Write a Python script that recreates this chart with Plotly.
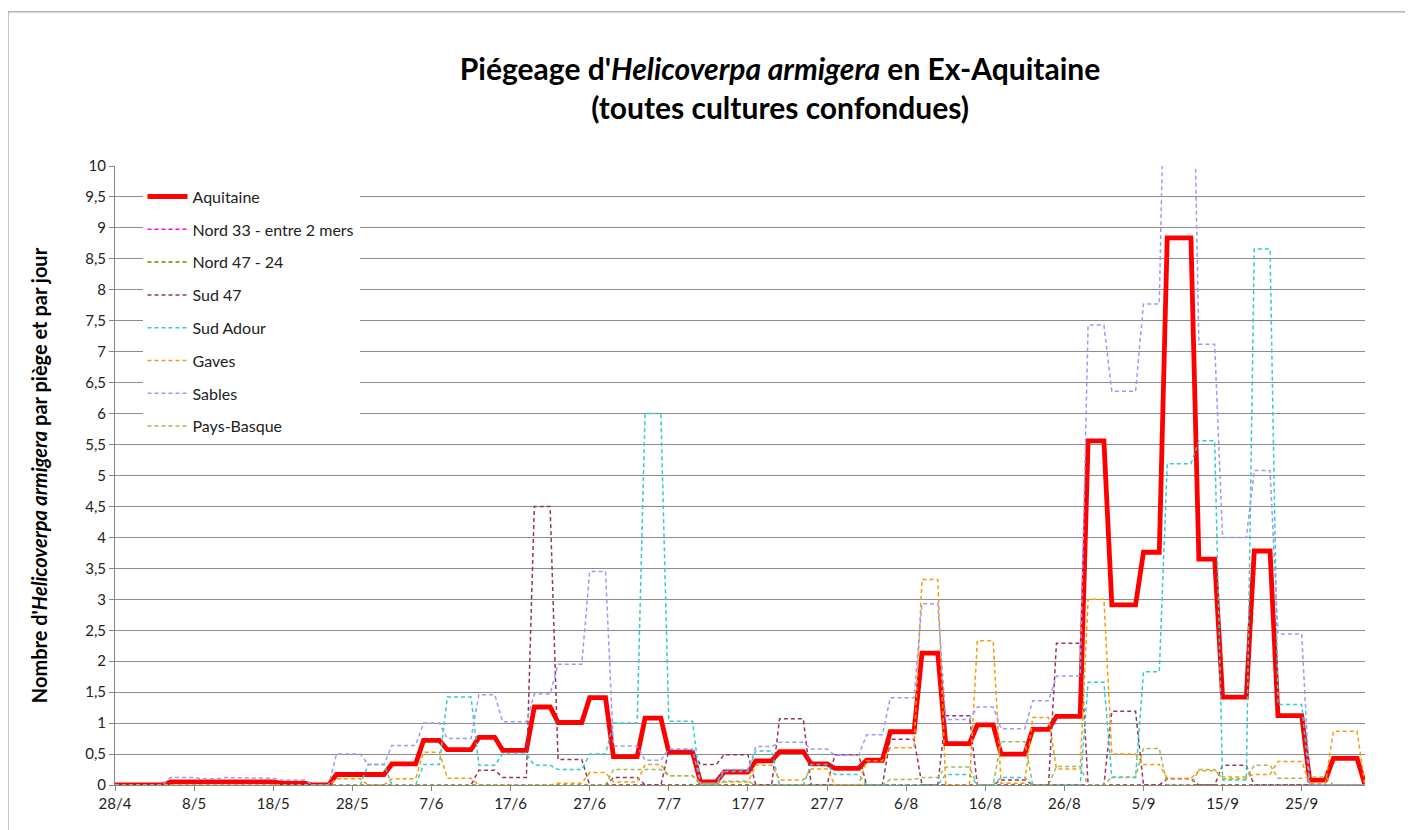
import pandas as pd
import plotly.graph_objects as go

# Trap reading periods (start dates); each value is held until the next start
period_starts = [
    "2016-04-28", "2016-05-05", "2016-05-09", "2016-05-12", "2016-05-16", "2016-05-19",
    "2016-05-23", "2016-05-26", "2016-05-30", "2016-06-02", "2016-06-06", "2016-06-09",
    "2016-06-13", "2016-06-16", "2016-06-20", "2016-06-23", "2016-06-27", "2016-06-30",
    "2016-07-04", "2016-07-07", "2016-07-11", "2016-07-14", "2016-07-18", "2016-07-21",
    "2016-07-25", "2016-07-28", "2016-08-01", "2016-08-04", "2016-08-08", "2016-08-11",
    "2016-08-15", "2016-08-18", "2016-08-22", "2016-08-25", "2016-08-29", "2016-09-01",
    "2016-09-05", "2016-09-08", "2016-09-12", "2016-09-15", "2016-09-19", "2016-09-22",
    "2016-09-26", "2016-09-29", "2016-10-03",
]

aquitaine = [0, 0.05, 0.05, 0.05, 0.05, 0.03, 0, 0.17, 0.17, 0.34, 0.72, 0.57, 0.77, 0.56,
             1.26, 1.01, 1.41, 0.46, 1.08, 0.53, 0.05, 0.21, 0.39, 0.54, 0.34, 0.27, 0.40,
             0.86, 2.13, 0.67, 0.97, 0.50, 0.90, 1.11, 5.56, 2.91, 3.76, 8.84, 3.65, 1.42,
             3.78, 1.12, 0.08, 0.43, 0]
nord33 = [0] * 45
nord47_24 = [0] * 45
sud47 = [0, 0, 0, 0, 0, 0, 0, 0, 0, 0, 0, 0, 0.24, 0.12, 4.5, 0.41, 0, 0.12, 0, 0.56,
         0.33, 0.49, 0, 1.07, 0, 0.49, 0, 0.74, 0, 1.12, 0, 0.08, 0, 2.29, 0, 1.19, 0,
         0.1, 0, 0.32, 0, 0, 0, 0, 0]
sud_adour = [0, 0, 0, 0, 0, 0, 0, 0, 0.33, 0, 0.33, 1.42, 0.32, 0.5, 0.32, 0.25, 0.5, 1.0,
             6.0, 1.03, 0, 0.22, 0.55, 0, 0.33, 0.17, 0, 0, 0, 0.17, 0, 0.12, 0, 0, 1.66,
             0.12, 1.83, 5.19, 5.56, 0.08, 8.66, 1.3, 0, 0, 0]
gaves = [0, 0, 0, 0, 0, 0, 0, 0.1, 0, 0.1, 0.53, 0.11, 0, 0, 0, 0.03, 0.2, 0.05, 0.33,
         0.15, 0.03, 0.05, 0.32, 0.08, 0.26, 0, 0.39, 0.6, 3.32, 0, 2.33, 0.03, 1.09, 0.26,
         3.0, 0.5, 0.33, 0.11, 0.23, 0.13, 0.17, 0.38, 0.03, 0.87, 0]
sables = [0, 0.12, 0.1, 0.12, 0.11, 0.08, 0, 0.5, 0.33, 0.64, 1.0, 0.75, 1.46, 1.02, 1.47,
          1.95, 3.45, 0.63, 0.4, 0.58, 0.03, 0.25, 0.62, 0.69, 0.58, 0.48, 0.81, 1.41, 2.93,
          1.06, 1.26, 0.91, 1.36, 1.76, 7.43, 6.36, 7.77, 14.0, 7.12, 4.0, 5.08, 2.44, 0, 0, 0]
pays_basque = [0, 0, 0, 0, 0, 0, 0, 0, 0, 0, 0, 0, 0, 0, 0, 0, 0, 0.25, 0.25, 0.15, 0, 0.06,
               0, 0, 0, 0, 0, 0.09, 0.12, 0.29, 0, 0.7, 0, 0.3, 0, 0.13, 0.59, 0, 0.25, 0.1,
               0.32, 0.11, 0.13, 0, 0]

tick_dates = ["2016-04-28", "2016-05-08", "2016-05-18", "2016-05-28", "2016-06-07",
              "2016-06-17", "2016-06-27", "2016-07-07", "2016-07-17", "2016-07-27",
              "2016-08-06", "2016-08-16", "2016-08-26", "2016-09-05", "2016-09-15",
              "2016-09-25"]
tick_labels = ["28/4", "8/5", "18/5", "28/5", "7/6", "17/6", "27/6", "7/7", "17/7", "27/7",
               "6/8", "16/8", "26/8", "5/9", "15/9", "25/9"]

series = [
    ("Aquitaine", aquitaine, "#FF0000", 4.8, "solid"),
    ("Nord 33 - entre 2 mers", nord33, "#FF00FF", 1.5, "4px,3px"),
    ("Nord 47 - 24", nord47_24, "#808000", 1.5, "4px,3px"),
    ("Sud 47", sud47, "#993366", 1.5, "4px,3px"),
    ("Sud Adour", sud_adour, "#33CCCC", 1.5, "4px,3px"),
    ("Gaves", gaves, "#FF9900", 1.5, "4px,3px"),
    ("Sables", sables, "#9999FF", 1.5, "4px,3px"),
    ("Pays-Basque", pays_basque, "#9BBB59", 1.5, "4px,3px"),
]

starts = pd.to_datetime(period_starts)


def expand(values):
    xs, ys = [], []
    for i, v in enumerate(values):
        xs.append(starts[i])
        ys.append(v)
        if i + 1 < len(starts):
            end = starts[i + 1] - pd.Timedelta(days=1)
            if end > starts[i]:
                xs.append(end)
                ys.append(v)
    return xs, ys


FONT = "Lato, 'Open Sans', sans-serif"
fig = go.Figure()
for k, (name, vals, color, width, dash) in enumerate(series):
    xs, ys = expand(vals)
    fig.add_trace(go.Scatter(
        x=xs, y=ys, mode="lines", name=name, legendgroup=f"g{k}",
        line=dict(color=color, width=width, dash=dash),
    ))

fig.update_layout(
    width=1405, height=822,
    margin=dict(l=107, r=48, t=158, b=45),
    paper_bgcolor="white", plot_bgcolor="white",
    separators=", ",
    font=dict(family=FONT, size=15, color="#222"),
    title=dict(
        text="<b>Piégeage d'<i>Helicoverpa armigera</i> en Ex-Aquitaine<br>(toutes cultures confondues)</b>",
        x=0.5495, xanchor="center", y=0.912, yanchor="top",
        font=dict(family=FONT, size=30, color="#000"),
    ),
    showlegend=True,
    legend=dict(
        x=0.022, y=0.978, xanchor="left", yanchor="top",
        bgcolor="white", font=dict(family=FONT, size=16, color="#222"),
        tracegroupgap=9, itemwidth=40,
    ),
    xaxis=dict(
        type="date",
        range=["2016-04-28", "2016-10-03"],
        tickvals=tick_dates, ticktext=tick_labels,
        showgrid=False, showline=True, linecolor="#868686", linewidth=1,
        ticks="outside", ticklen=5, tickcolor="#868686",
        tickfont=dict(family=FONT, size=15, color="#222"),
        zeroline=False,
    ),
    yaxis=dict(
        range=[0, 10], dtick=0.5, tick0=0,
        showgrid=True, gridcolor="#8c8c8c", gridwidth=1,
        showline=True, linecolor="#868686", linewidth=1,
        ticks="outside", ticklen=5, tickcolor="#868686",
        tickfont=dict(family=FONT, size=15, color="#222"),
        zeroline=False,
        title=dict(
            text="<b>Nombre d'<i>Helicoverpa armigera</i> par piège et par jour</b>",
            font=dict(family=FONT, size=20, color="#000"), standoff=32,
        ),
    ),
    shapes=[dict(type="rect", xref="paper", yref="paper",
                 x0=-0.0856, x1=1.036, y0=-0.075, y1=1.249,
                 line=dict(color="#8c8c8c", width=1), fillcolor="rgba(0,0,0,0)", layer="below")],
)

fig.write_html("out.html")
